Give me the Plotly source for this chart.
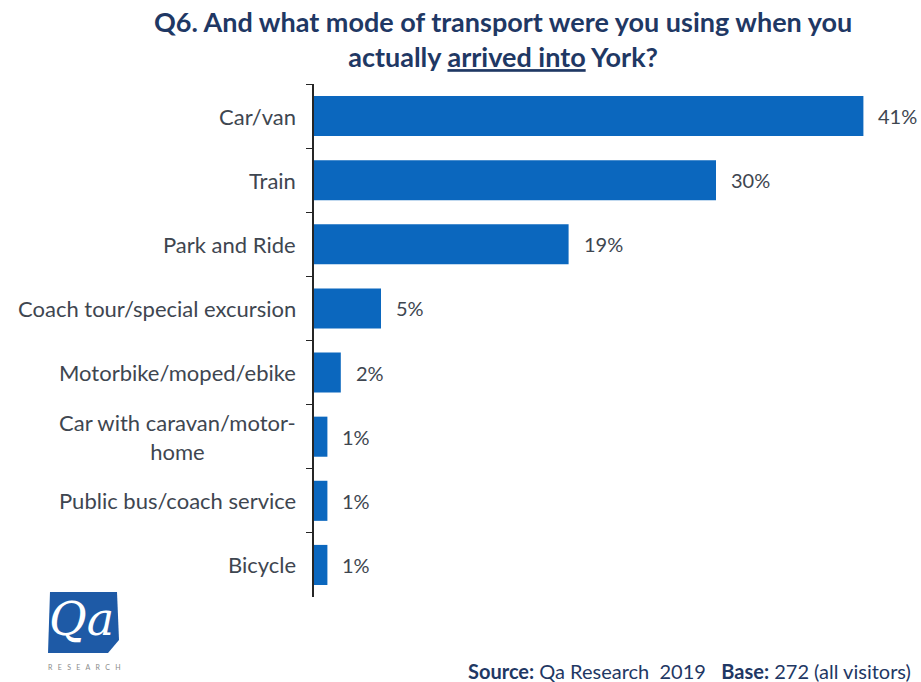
import plotly.graph_objects as go

# Survey responses: mode of transport on arrival into York
categories = [
    "Car/van",
    "Train",
    "Park and Ride",
    "Coach tour/special excursion",
    "Motorbike/moped/ebike",
    "Car with caravan/motor-<br>home",
    "Public bus/coach service",
    "Bicycle",
]
values = [41, 30, 19, 5, 2, 1, 1, 1]
value_labels = ["41%", "30%", "19%", "5%", "2%", "1%", "1%", "1%"]

BAR = "#0B67BE"
TEXT = "#3E4650"
NAVY = "#1F3864"
FONT = "Lato, 'Open Sans', sans-serif"

# plot area geometry (pixels) used to place the page furniture
L, R, T, B = 314, 4, 84, 85
W, H = 921, 682
PW, PH = W - L - R, H - T - B


def px(x):
    return (x - L) / PW


def py(y):
    return (H - B - y) / PH


fig = go.Figure(
    go.Bar(
        x=values,
        y=categories,
        orientation="h",
        marker=dict(color=BAR, line=dict(width=0)),
        hoverinfo="skip",
    )
)

# category labels to the left of the axis, centred line by line
for cat in categories:
    fig.add_annotation(
        x=0, xref="paper", y=cat, yref="y",
        text=cat, showarrow=False, xanchor="right", align="center",
        xshift=-16, font=dict(family=FONT, size=22, color=TEXT),
    )

# value labels just beyond each bar
for cat, v, lab in zip(categories, values, value_labels):
    fig.add_annotation(
        x=v, y=cat, text=lab, showarrow=False, xanchor="left",
        xshift=13, font=dict(family=FONT, size=20, color=TEXT),
    )

# title
fig.add_annotation(
    xref="paper", yref="paper", x=px(503), y=py(39),
    xanchor="center", yanchor="middle",
    text="<b>Q6. And what mode of transport were you using when you<br>"
         "actually <u>arrived into</u> York?</b>",
    showarrow=False, align="center",
    font=dict(family=FONT, size=27, color=NAVY),
)

# source line
fig.add_annotation(
    xref="paper", yref="paper", x=px(913), y=py(671),
    xanchor="right", yanchor="middle",
    text="<b>Source:</b> Qa Research  2019   <b>Base:</b> 272 (all visitors)",
    showarrow=False, font=dict(family=FONT, size=20, color=NAVY),
)

# Qa Research logo
fig.add_shape(
    type="path", xref="paper", yref="paper",
    path=(f"M {px(50)},{py(592)} L {px(117)},{py(592)} "
          f"L {px(119)},{py(640)} L {px(108)},{py(653)} "
          f"L {px(48)},{py(653)} Z"),
    fillcolor="#1E5AA6", line=dict(width=0), layer="above",
)
fig.add_annotation(
    xref="paper", yref="paper", x=px(82), y=py(619),
    text="<i>Qa</i>", showarrow=False, xanchor="center", yanchor="middle",
    font=dict(family="DejaVu Serif, serif", size=46, color="white"),
)
fig.add_annotation(
    xref="paper", yref="paper", x=px(84), y=py(667),
    text="R   E   S   E   A   R   C   H", showarrow=False,
    xanchor="center", yanchor="middle",
    font=dict(family=FONT, size=7, color="#8A8A8A"),
)

fig.update_layout(
    width=W, height=H,
    margin=dict(l=L, r=R, t=T, b=B),
    paper_bgcolor="white", plot_bgcolor="white",
    bargap=0.375,
    showlegend=False,
    xaxis=dict(range=[0, 45], visible=False, fixedrange=True),
    yaxis=dict(
        autorange="reversed", showticklabels=False,
        showline=True, linecolor="#262626", linewidth=1.5,
        ticks="outside", ticklen=6, tickcolor="#262626",
        tickson="boundaries", showgrid=False, zeroline=False,
    ),
)

fig.write_html("out.html")
